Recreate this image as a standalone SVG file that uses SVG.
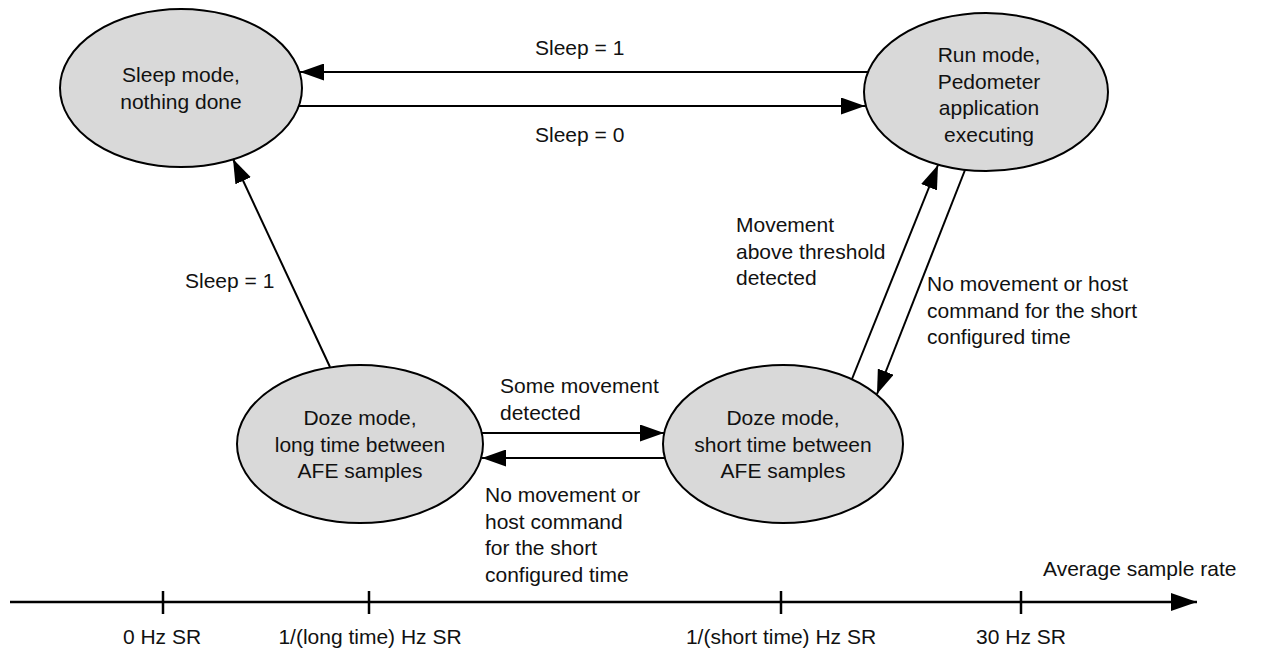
<svg xmlns="http://www.w3.org/2000/svg" width="1261" height="654" viewBox="0 0 1261 654">
<defs>
<style>
text{font-family:"Liberation Sans",Arial,sans-serif;font-size:21px;fill:#111}
.c{text-anchor:middle}
.node ellipse{fill:#d9d9d9;stroke:#000;stroke-width:2}
.edge{stroke:#000;stroke-width:2;fill:none}
.axis{stroke:#000;stroke-width:2.5;fill:none}
</style>
<marker id="ah" markerUnits="userSpaceOnUse" markerWidth="24" markerHeight="17" refX="24" refY="8.5" orient="auto">
<path d="M0,0 L24,8.5 L0,17 z" fill="#000"/>
</marker>
<marker id="ax" markerUnits="userSpaceOnUse" markerWidth="26" markerHeight="18" refX="26" refY="9" orient="auto">
<path d="M0,0 L26,9 L0,18 z" fill="#000"/>
</marker>
</defs>
<rect width="1261" height="654" fill="#fff"/>

<g id="sleep" class="node">
<ellipse cx="181" cy="88" rx="121" ry="79"/>
<text class="c" x="181" y="82">Sleep mode,</text>
<text class="c" x="181" y="108.5">nothing done</text>
</g>
<g id="run" class="node">
<ellipse cx="986" cy="92" rx="122" ry="79"/>
<text class="c" x="989" y="62">Run mode,</text>
<text class="c" x="989" y="88.5">Pedometer</text>
<text class="c" x="989" y="115">application</text>
<text class="c" x="989" y="141.5">executing</text>
</g>
<g id="doze-long" class="node">
<ellipse cx="360" cy="444" rx="123" ry="79"/>
<text class="c" x="360" y="425">Doze mode,</text>
<text class="c" x="360" y="451.5">long time between</text>
<text class="c" x="360" y="478">AFE samples</text>
</g>
<g id="doze-short" class="node">
<ellipse cx="783" cy="444" rx="120" ry="79"/>
<text class="c" x="783" y="425">Doze mode,</text>
<text class="c" x="783" y="451.5">short time between</text>
<text class="c" x="783" y="478">AFE samples</text>
</g>

<g id="connectors">
<line class="edge" x1="868" y1="72" x2="300" y2="72" marker-end="url(#ah)"/>
<line class="edge" x1="299" y1="106" x2="865" y2="106" marker-end="url(#ah)"/>
<line class="edge" x1="330" y1="367" x2="233" y2="159" marker-end="url(#ah)"/>
<line class="edge" x1="482" y1="433" x2="664" y2="433" marker-end="url(#ah)"/>
<line class="edge" x1="665" y1="458" x2="482" y2="458" marker-end="url(#ah)"/>
<line class="edge" x1="852" y1="379" x2="938" y2="165" marker-end="url(#ah)"/>
<line class="edge" x1="965" y1="170" x2="877" y2="394" marker-end="url(#ah)"/>
</g>

<g id="labels">
<text x="535" y="55">Sleep = 1</text>
<text x="535" y="142">Sleep = 0</text>
<text x="185" y="288">Sleep = 1</text>
<text x="500" y="393">Some movement</text>
<text x="500" y="420">detected</text>
<text x="485" y="502">No movement or</text>
<text x="485" y="528.5">host command</text>
<text x="485" y="555">for the short</text>
<text x="485" y="581.5">configured time</text>
<text x="736" y="232">Movement</text>
<text x="736" y="258.5">above threshold</text>
<text x="736" y="285">detected</text>
<text x="927" y="291">No movement or host</text>
<text x="927" y="317.5">command for the short</text>
<text x="927" y="344">configured time</text>
</g>

<g id="axis">
<line class="axis" x1="10" y1="602" x2="1197" y2="602" marker-end="url(#ax)"/>
<line class="axis" x1="163" y1="591" x2="163" y2="614"/>
<line class="axis" x1="369" y1="591" x2="369" y2="614"/>
<line class="axis" x1="781" y1="591" x2="781" y2="614"/>
<line class="axis" x1="1021" y1="591" x2="1021" y2="614"/>
<text x="1043" y="576">Average sample rate</text>
<text class="c" x="162" y="644">0 Hz SR</text>
<text class="c" x="370" y="644">1/(long time) Hz SR</text>
<text class="c" x="781" y="644">1/(short time) Hz SR</text>
<text class="c" x="1021" y="644">30 Hz SR</text>
</g>
</svg>
